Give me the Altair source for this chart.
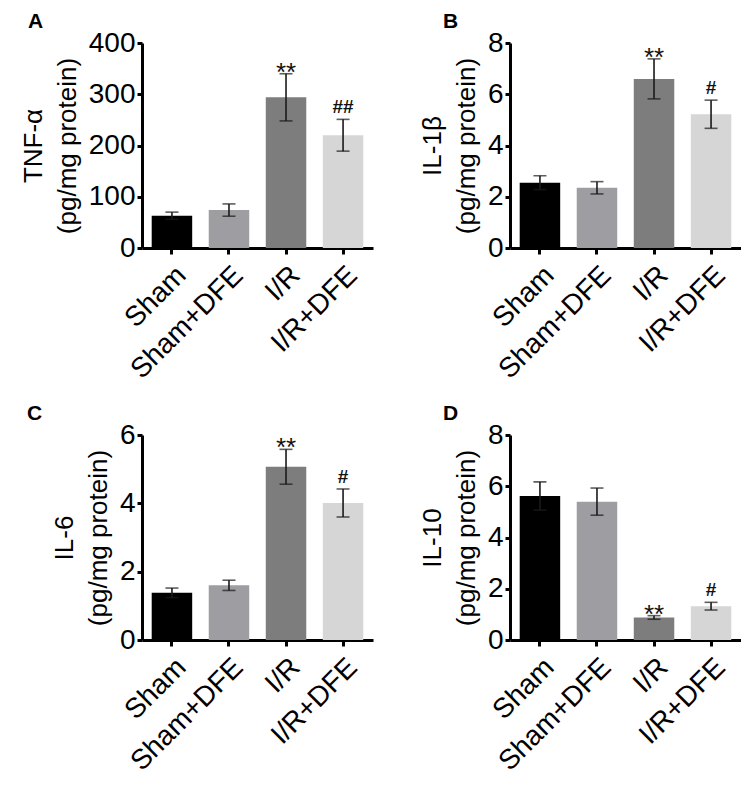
import altair as alt
import pandas as pd

groups = ["Sham", "Sham+DFE", "I/R", "I/R+DFE"]
colors = ["#000000", "#9e9ea2", "#7d7d7d", "#d6d6d6"]

tnf_mean = [63, 74, 294, 220]
tnf_err = [7, 12, 46, 31]
il1b_mean = [2.55, 2.35, 6.60, 5.22]
il1b_err = [0.27, 0.24, 0.78, 0.55]
il6_mean = [1.38, 1.60, 5.07, 4.01]
il6_err = [0.14, 0.15, 0.51, 0.41]
il10_mean = [5.62, 5.40, 0.88, 1.32]
il10_err = [0.55, 0.53, 0.07, 0.15]

sig_a = ["", "", "**", "##"]
sig_b = ["", "", "**", "#"]
sig_c = ["", "", "**", "#"]
sig_d = ["", "", "**", "#"]

FONT = "Liberation Sans"
W, H = 231, 205


def panel(letter, ytitle, means, errs, sigs, ymax, ystep, dx):
    df = pd.DataFrame({
        "group": groups,
        "mean": means,
        "lo": [m - e for m, e in zip(means, errs)],
        "hi": [m + e for m, e in zip(means, errs)],
        "sig": sigs,
    })
    x = alt.X("group:N", sort=groups,
              scale=alt.Scale(paddingInner=0.29, paddingOuter=0.17),
              axis=alt.Axis(title=None, labelAngle=-45, labelAlign="right",
                            labelBaseline="top"))
    yscale = alt.Scale(domain=[0, ymax], nice=False)
    yaxis = alt.Axis(values=list(range(0, ymax + 1, ystep)), title=ytitle,
                     grid=False, titlePadding=8, titleLineHeight=34)
    base = alt.Chart(df)
    bars = base.mark_bar().encode(
        x=x,
        y=alt.Y("mean:Q", scale=yscale, axis=yaxis),
        color=alt.Color("group:N", scale=alt.Scale(domain=groups, range=colors), legend=None),
    )
    err = base.mark_rule(color="#1a1a1a", strokeWidth=1.6).encode(
        x=alt.X("group:N", sort=groups), y="lo:Q", y2="hi:Q")
    cap_hi = base.mark_tick(color="#1a1a1a", thickness=1.6, size=13).encode(
        x=alt.X("group:N", sort=groups), y="hi:Q")
    cap_lo = base.mark_tick(color="#1a1a1a", thickness=1.6, size=13).encode(
        x=alt.X("group:N", sort=groups), y="lo:Q")
    stars = base.transform_filter(alt.datum.sig == "**").mark_text(
        font=FONT, fontSize=26, baseline="alphabetic", dy=7, color="#111111").encode(
        x=alt.X("group:N", sort=groups), y="hi:Q", text="sig:N")
    hashes = base.transform_filter(
        (alt.datum.sig == "#") | (alt.datum.sig == "##")).mark_text(
        font=FONT, fontSize=19, baseline="alphabetic", dy=-6, color="#111111",
        fontWeight="bold").encode(
        x=alt.X("group:N", sort=groups), y="hi:Q", text="sig:N")
    tag = alt.Chart(pd.DataFrame({"letter": [letter]})).mark_text(
        font=FONT, fontSize=21, fontWeight="bold", align="left", baseline="top",
        color="#000000").encode(
        x=alt.value(dx), y=alt.value(-32), text="letter:N")
    return alt.layer(bars, err, cap_hi, cap_lo, stars, hashes, tag).properties(
        width=W, height=H)


a = panel("A", ["TNF-α", "(pg/mg protein)"], tnf_mean, tnf_err, sig_a, 400, 100, -114)
b = panel("B", ["IL-1β", "(pg/mg protein)"], il1b_mean, il1b_err, sig_b, 8, 2, -67)
c = panel("C", ["IL-6", "(pg/mg protein)"], il6_mean, il6_err, sig_c, 6, 2, -115)
d = panel("D", ["IL-10", "(pg/mg protein)"], il10_mean, il10_err, sig_d, 8, 2, -67)

chart = alt.concat(a, b, c, d, columns=2, spacing={"row": 19, "column": 46}).properties(
    padding={"left": 12, "top": 3, "right": 0, "bottom": 0}
).configure_view(stroke=None).configure_axis(
    domainColor="#000000", domainWidth=3, tickColor="#000000", tickWidth=3,
    labelFont=FONT, titleFont=FONT, titleFontSize=26, labelFontSize=28,
    labelColor="#000000", titleColor="#000000", titleFontWeight="normal",
).configure_axisY(tickSize=5, labelPadding=2).configure_axisX(tickSize=6, labelPadding=7)

chart.save("out.html", embed_options={"renderer": "svg", "actions": False})
